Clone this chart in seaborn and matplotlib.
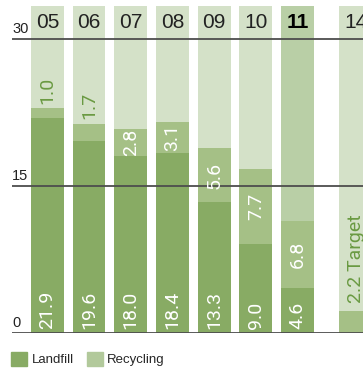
import matplotlib
matplotlib.use("Agg")
import matplotlib.pyplot as plt
from matplotlib.patches import Patch
import seaborn as sns
import numpy as np

years = ['05', '06', '07', '08', '09', '10', '11', '14']
landfill = [21.9, 19.6, 18.0, 18.4, 13.3, 9.0, 4.6]
recycling = [1.0, 1.7, 2.8, 3.1, 5.6, 7.7, 6.8]
target = 2.2
y_ticks = [0, 15, 30]

dark = '#88ab64'
medium = '#a5c086'
light = '#d4e1c8'
current_bg = '#b9cfa6'
legend_light = '#b2c99b'
label_green = '#6a9a42'

sns.set_style("white")
plt.rcParams['font.family'] = ['Liberation Sans', 'DejaVu Sans']

fig = plt.figure(figsize=(3.63, 3.70), dpi=100)
ax = fig.add_axes([12 / 363, 37.5 / 370, 351 / 363, 332.5 / 370])

n = len(landfill)
target_gap = 1.4
xpos = np.append(np.arange(n, dtype=float), n - 1 + target_gap)
totals = [l + r for l, r in zip(landfill, recycling)] + [target]
bg_top = 33.4

# background columns
sns.barplot(x=xpos, y=[bg_top] * len(xpos), color=light, native_scale=True,
            width=0.79, saturation=1, linewidth=0, ax=ax)
ax.patches[n - 1].set_facecolor(current_bg)
# recycling (stacked on landfill) and target
sns.barplot(x=xpos, y=totals, color=medium, native_scale=True,
            width=0.79, saturation=1, linewidth=0, ax=ax)
# landfill
sns.barplot(x=xpos[:n], y=landfill, color=dark, native_scale=True,
            width=0.79, saturation=1, linewidth=0, ax=ax)

for t in y_ticks:
    ax.axhline(t, color='#4d4d4d', lw=1.3, zorder=3)

ax.set_xlim(-0.847, 7.571)
ax.set_ylim(0, 33.99)
ax.set_axis_off()

for t in y_ticks:
    ax.text(-0.847, t + 0.3, str(t), ha='left', va='bottom', fontsize=10.5, color='#222222')

for i, yr in enumerate(years):
    bold = yr == '11'
    ax.text(xpos[i], 31.7, yr, ha='center', va='center', fontsize=15,
            color='black' if bold else '#222222',
            fontweight='bold' if bold else 'normal', zorder=4)

for i in range(n):
    ax.text(xpos[i], 0.35, f'{landfill[i]:.1f}', rotation=90, ha='center', va='bottom',
            color='white', fontsize=14, family='Roboto', zorder=4)
    if recycling[i] < 2.5:
        ax.text(xpos[i], totals[i] + 0.5, f'{recycling[i]:.1f}', rotation=90, ha='center',
                va='bottom', color=label_green, fontsize=14, family='Roboto', zorder=4)
    else:
        ax.text(xpos[i], landfill[i] + recycling[i] / 2, f'{recycling[i]:.1f}', rotation=90,
                ha='center', va='center', color='white', fontsize=14, family='Roboto', zorder=4)

ax.text(xpos[-1], target + 0.8, f'{target:.1f} Target', rotation=90, ha='center', va='bottom',
        color=label_green, fontsize=14, family='Roboto', zorder=4)

handles = [Patch(color=dark), Patch(color=legend_light)]
fig.legend(handles, ['Landfill', 'Recycling'], ncol=2, loc='lower left',
           bbox_to_anchor=(0.012, -0.008), frameon=False, fontsize=9.5,
           handlelength=1.25, handleheight=1.3, handletextpad=0.3,
           columnspacing=1.0, borderaxespad=0.2, borderpad=0.3)

fig.savefig('out.png', dpi=100)
